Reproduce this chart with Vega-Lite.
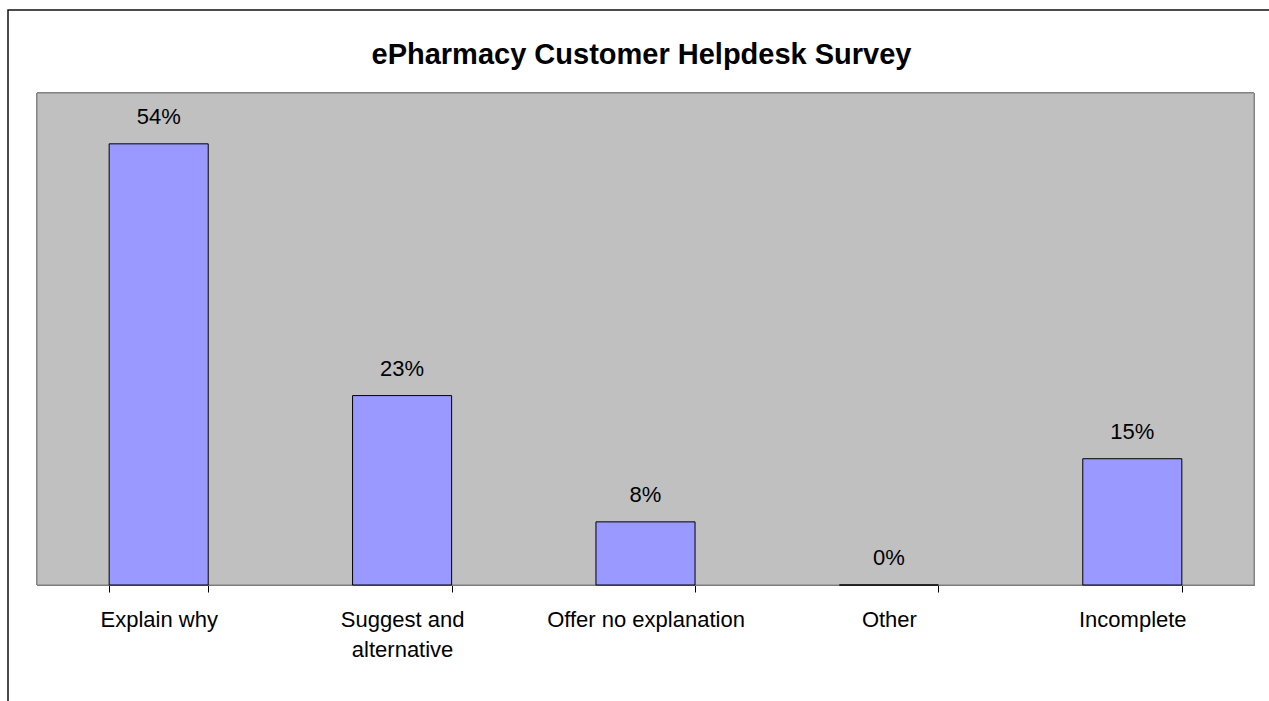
{
  "$schema": "https://vega.github.io/schema/vega-lite/v6.json",
  "autosize": {"type": "none"},
  "padding": {"left": 8, "top": 10, "right": -20, "bottom": -20},
  "width": 1281,
  "height": 711,
  "background": "white",
  "config": {
    "view": {"fill": "white", "stroke": "#111111", "strokeWidth": 1.5},
    "font": "Liberation Sans"
  },
  "title": {
    "text": "ePharmacy Customer Helpdesk Survey",
    "font": "Liberation Sans",
    "fontSize": 29,
    "fontWeight": "bold",
    "color": "#000000",
    "anchor": "middle",
    "frame": "group",
    "baseline": "alphabetic",
    "offset": -83,
    "dx": -7
  },
  "data": {
    "values": [
      {"Category": "Explain why", "Value": 0.538},
      {"Category": "Suggest and alternative", "Value": 0.231},
      {"Category": "Offer no explanation", "Value": 0.077},
      {"Category": "Other", "Value": 0},
      {"Category": "Incomplete", "Value": 0.154}
    ]
  },
  "resolve": {"scale": {"x": "independent"}},
  "layer": [
    {
      "mark": {"type": "rect", "fill": "#C0C0C0", "stroke": "#808080", "strokeWidth": 1},
      "encoding": {
        "x": {"datum": 0, "type": "quantitative", "scale": {"domain": [0, 1], "range": [29, 1246], "nice": false}, "axis": null},
        "x2": {"datum": 1},
        "y": {"datum": 0, "type": "quantitative", "scale": {"domain": [0, 0.6], "range": [575, 83], "nice": false, "zero": true}, "axis": null},
        "y2": {"datum": 0.6}
      }
    },
    {
      "layer": [
        {
          "mark": {"type": "bar", "fill": "#9999FF", "stroke": "#000000", "strokeWidth": 1},
          "encoding": {
            "x": {
              "field": "Category",
              "type": "nominal",
              "sort": null,
              "scale": {"range": [29, 1246], "paddingInner": 0.593, "paddingOuter": 0.2965},
              "axis": {
                "title": null,
                "orient": "bottom",
                "offset": -136,
                "labelAngle": 0,
                "domainColor": "#000000",
                "domainWidth": 1,
                "tickColor": "#000000",
                "tickSize": 7,
                "tickBand": "extent",
                "labelFont": "Liberation Sans",
                "labelFontSize": 22,
                "labelColor": "#000000",
                "labelPadding": 17,
                "labelLineHeight": 30,
                "labelLimit": 300,
                "labelExpr": "datum.label == 'Suggest and alternative' ? ['Suggest and', 'alternative'] : datum.label",
                "grid": false
              }
            },
            "y": {"field": "Value", "type": "quantitative", "scale": {"domain": [0, 0.6], "range": [575, 83], "nice": false, "zero": true}, "axis": null}
          }
        },
        {
          "mark": {"type": "text", "dy": -20, "baseline": "alphabetic", "fontSize": 22, "font": "Liberation Sans", "color": "#000000"},
          "encoding": {
            "x": {"field": "Category", "type": "nominal", "sort": null},
            "y": {"field": "Value", "type": "quantitative"},
            "text": {"field": "Value", "type": "quantitative", "format": ".0%"}
          }
        }
      ]
    }
  ]
}
